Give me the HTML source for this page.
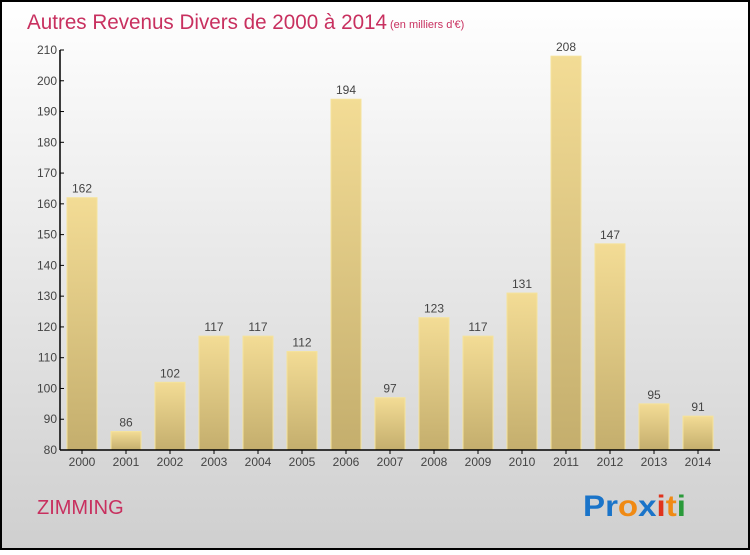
<!DOCTYPE html>
<html><head><meta charset="utf-8"><style>
body{margin:0}
#c{width:750px;height:550px;position:relative;font-family:"Liberation Sans",sans-serif}
</style></head><body>
<div id="c">
<svg id="s" width="750" height="550" xmlns="http://www.w3.org/2000/svg">
<defs>
<linearGradient id="bg" x1="0" y1="0" x2="0" y2="1"><stop offset="0" stop-color="#ffffff"/><stop offset="1" stop-color="#cfcfcf"/></linearGradient>
<linearGradient id="bar" x1="0" y1="0" x2="0" y2="1"><stop offset="0" stop-color="#f3dc95"/><stop offset="1" stop-color="#c4ae6d"/></linearGradient>
</defs>
<rect x="1" y="1" width="748" height="548" fill="url(#bg)" stroke="#000" stroke-width="2"/>
<text x="27" y="29" font-size="21" fill="#c8305f" textLength="360" lengthAdjust="spacingAndGlyphs">Autres Revenus Divers de 2000 à 2014</text>
<text x="390" y="28" font-size="11" fill="#c8305f">(en milliers d'€)</text>
<g id="g"></g>
<text x="37" y="514" font-size="20" fill="#c8305f">ZIMMING</text>
<text x="583" y="516" font-size="30" font-weight="bold" textLength="103" lengthAdjust="spacingAndGlyphs"><tspan fill="#1a74c9">Pr</tspan><tspan fill="#f08a14">o</tspan><tspan fill="#1a74c9">x</tspan><tspan fill="#e0331c">i</tspan><tspan fill="#f08a14">t</tspan><tspan fill="#2a9a3a">i</tspan></text>
</svg></div>
<script>
const categories=["2000","2001","2002","2003","2004","2005","2006","2007","2008","2009","2010","2011","2012","2013","2014"];
const values=[162,86,102,117,117,112,194,97,123,117,131,208,147,95,91];
const yTicks=[80,90,100,110,120,130,140,150,160,170,180,190,200,210];
const NS="http://www.w3.org/2000/svg";
const g=document.getElementById('g');
const y=v=>450-(v-80)*400/130;
const x=i=>82+i*44;
function mk(t,a){const e=document.createElementNS(NS,t);for(const k in a)e.setAttribute(k,a[k]);g.appendChild(e);return e;}
values.forEach((v,i)=>{
 const r=mk('rect',{x:x(i)-15,y:y(v),width:30,height:450-y(v),fill:'url(#bar)',stroke:'#f5e39c','stroke-width':1});
 
 
 const t=mk('text',{x:x(i),y:y(v)-5,'font-size':12,fill:'#444','text-anchor':'middle'});t.textContent=v;
 
 
 const l=mk('text',{x:x(i),y:466,'font-size':12,fill:'#444','text-anchor':'middle'});l.textContent=categories[i];
 
 
 const tk=mk('line',{x1:x(i),x2:x(i),y1:450,y2:454,stroke:'#000'});
 
 
});
yTicks.forEach(v=>{
 const tk=mk('line',{x1:60,x2:64,y1:y(v),y2:y(v),stroke:'#000'});
 
 
 const t=mk('text',{x:57,y:y(v)+4,'font-size':12,fill:'#444','text-anchor':'end'});t.textContent=v;
 
 
});
const ya=mk('line',{x1:60,x2:60,y1:y(210),y2:450,stroke:'#000','stroke-width':1.5});


const xa=mk('line',{x1:60,x2:720,y1:450,y2:450,stroke:'#000','stroke-width':1.5});


</script>
</body></html>
